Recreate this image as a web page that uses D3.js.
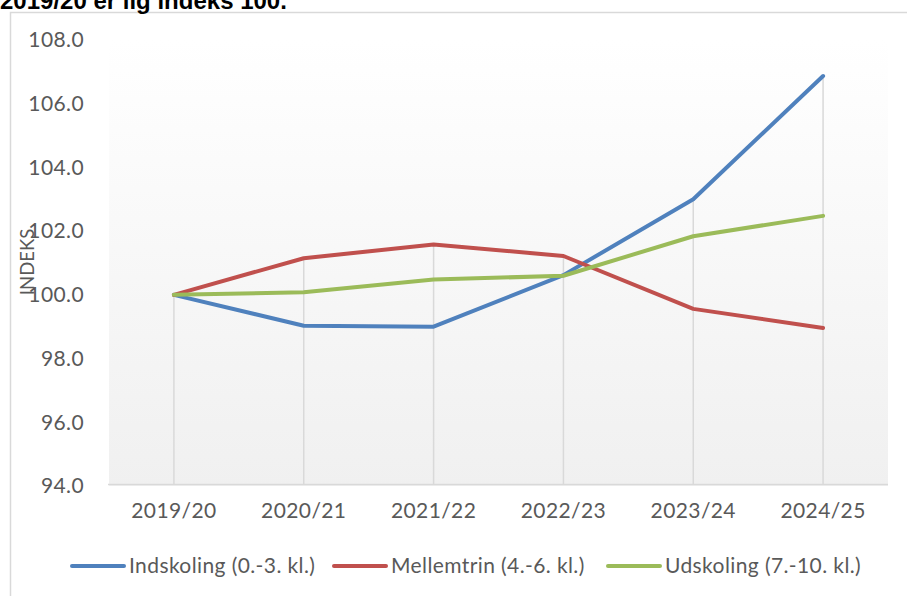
<!DOCTYPE html>
<html><head><meta charset="utf-8">
<script src="https://cdn.jsdelivr.net/npm/d3@7"></script>
<style>body{margin:0;background:#fff;}</style>
</head><body>
<svg id="c" width="907" height="596"></svg>
<script>
const title = "2019/20 er lig indeks 100.";
const categories = ["2019/20","2020/21","2021/22","2022/23","2023/24","2024/25"];
const seriesNames = ["Indskoling (0.-3. kl.)","Mellemtrin (4.-6. kl.)","Udskoling (7.-10. kl.)"];
const indskoling = [100.0, 99.03, 99.0, 100.62, 103.0, 106.87];
const mellemtrin = [100.0, 101.15, 101.58, 101.22, 99.56, 98.96];
const udskoling = [100.0, 100.08, 100.48, 100.6, 101.84, 102.48];
const yTicks = [94,96,98,100,102,104,106,108];
const colors = ["#4F81BD","#C0504D","#9BBB59"];
const yLabel = "INDEKS";

const series = [indskoling, mellemtrin, udskoling];
const svg = d3.select("#c");
const L = 109, R = 888, T = 40, B = 486;
const FONT = "Lato, 'Open Sans', sans-serif";

// chart border
svg.append("path").attr("d","M10.5,600 V12.5 H910").attr("fill","none").attr("stroke","#d9d9d9").attr("stroke-width",1.5);
// title (cut off at the top, as in the reference)
svg.append("text").attr("x",0).attr("y",9).style("font-family","Arial, 'Liberation Sans', sans-serif")
  .style("font-weight","bold").style("font-size","24px").attr("fill","#000").text(title);

const defs = svg.append("defs");
const g = defs.append("linearGradient").attr("id","bg").attr("x1",0).attr("y1",0).attr("x2",0).attr("y2",1);
g.append("stop").attr("offset","0%").attr("stop-color","#ffffff");
g.append("stop").attr("offset","100%").attr("stop-color","#f0f0f0");

const x = d3.scaleBand().domain(categories).range([L,R]);
const y = d3.scaleLinear().domain([94,108]).range([B,T]);

svg.append("rect").attr("x",L).attr("y",T).attr("width",R-L).attr("height",B-T).attr("fill","url(#bg)");

// drop lines
categories.forEach((c,i)=>{
  const mx = d3.max(series, s=>s[i]);
  svg.append("line").attr("x1",x(c)+x.bandwidth()/2).attr("x2",x(c)+x.bandwidth()/2)
    .attr("y1",y(mx)).attr("y2",B-2).attr("stroke","#d9d9d9").attr("stroke-width",1.5);
});
// x axis line
svg.append("line").attr("x1",L-1).attr("x2",R).attr("y1",B-1.5).attr("y2",B-1.5).attr("stroke","#d9d9d9").attr("stroke-width",1.5);

function styleText(sel){
  sel.style("font-family",FONT).style("font-size","21px").style("letter-spacing","0.4px").attr("fill","#595959");
}
// y axis labels
const yAxis = d3.axisLeft(y).tickValues(yTicks).tickFormat(d3.format(".1f")).tickSize(0).tickPadding(0);
const ya = svg.append("g").attr("transform","translate(84,0)").call(yAxis);
ya.select(".domain").remove();
styleText(ya.selectAll("text"));

// x axis labels
const xAxis = d3.axisBottom(x).tickSize(0).tickPadding(0);
const xa = svg.append("g").attr("transform","translate(0,503)").call(xAxis);
xa.select(".domain").remove();
styleText(xa.selectAll("text"));

// y label
svg.append("text").attr("transform","translate(34,262) rotate(-90)").attr("text-anchor","middle")
  .style("font-family",FONT).style("font-size","18.5px").attr("fill","#595959").text(yLabel);

// lines
const line = d3.line().x((d,i)=>x(categories[i])+x.bandwidth()/2).y(d=>y(d));
series.forEach((s,k)=>{
  svg.append("path").datum(s).attr("d",line).attr("fill","none").attr("stroke",colors[k])
    .attr("stroke-width",4).attr("stroke-linejoin","round").attr("stroke-linecap","round");
});

// legend
const legX = [72, 334, 608];
seriesNames.forEach((n,k)=>{
  svg.append("line").attr("x1",legX[k]).attr("x2",legX[k]+52).attr("y1",566).attr("y2",566)
    .attr("stroke",colors[k]).attr("stroke-width",4).attr("stroke-linecap","round");
  const t = svg.append("text").attr("x",legX[k]+57).attr("y",566).attr("dy","0.35em").text(n);
  styleText(t);
});
</script>
</body></html>
